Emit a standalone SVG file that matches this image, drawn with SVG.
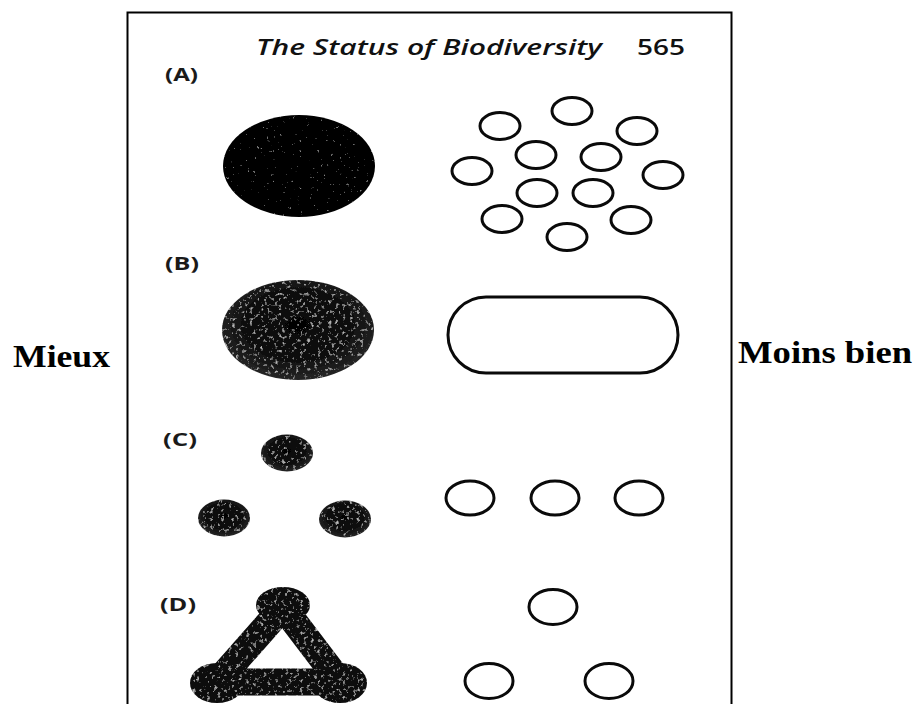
<svg xmlns="http://www.w3.org/2000/svg" width="917" height="704" viewBox="0 0 917 704">
  <style>
    .frame { fill: #ffffff; stroke: #000000; stroke-width: 2; }
    .title { font-family: "Open Sans", "Liberation Sans", sans-serif; font-style: italic; font-weight: 600; font-size: 22px; fill: #111; }
    .page { font-family: "Open Sans", "Liberation Sans", sans-serif; font-weight: 600; font-size: 22px; fill: #111; }
    .lab { font-family: "Open Sans", "Liberation Sans", sans-serif; font-weight: bold; font-size: 17px; fill: #1a1a1a; }
    .side { font-family: "Liberation Serif", "DejaVu Serif", serif; font-weight: bold; font-size: 32px; fill: #000; }
    .open { fill: none; stroke: #0a0a0a; stroke-width: 3; }
    .solid { fill: #060606; }
    .mottled { fill: url(#mott); }
  </style>
  <defs>
    <radialGradient id="mott" cx="50%" cy="45%" r="55%">
      <stop offset="0" stop-color="#050505"/>
      <stop offset="0.6" stop-color="#0c0c0c"/>
      <stop offset="1" stop-color="#262626"/>
    </radialGradient>
    <filter id="grainLight" x="0" y="0" width="100%" height="100%">
      <feTurbulence type="fractalNoise" baseFrequency="0.3" numOctaves="2" seed="4" result="n"/>
      <feColorMatrix in="n" type="matrix" values="0 0 0 0 1  0 0 0 0 1  0 0 0 0 1  4 0 0 0 -2.9" result="spots"/>
      <feComposite in="spots" in2="SourceGraphic" operator="in" result="s2"/>
      <feComponentTransfer in="s2" result="s3"><feFuncA type="linear" slope="0.5"/></feComponentTransfer>
      <feMerge><feMergeNode in="SourceGraphic"/><feMergeNode in="s3"/></feMerge>
    </filter>
    <filter id="grain" x="0" y="0" width="100%" height="100%">
      <feTurbulence type="fractalNoise" baseFrequency="0.28" numOctaves="3" seed="9" result="n"/>
      <feColorMatrix in="n" type="matrix" values="0 0 0 0 1  0 0 0 0 1  0 0 0 0 1  3.5 0 0 0 -2.1" result="spots"/>
      <feComposite in="spots" in2="SourceGraphic" operator="in" result="s2"/>
      <feComponentTransfer in="s2" result="s3"><feFuncA type="linear" slope="0.55"/></feComponentTransfer>
      <feMerge><feMergeNode in="SourceGraphic"/><feMergeNode in="s3"/></feMerge>
    </filter>
  </defs>

  <rect width="917" height="704" fill="#ffffff"/>

  <g id="panel">
    <rect class="frame" x="127.5" y="12.5" width="604" height="720"/>
    <text class="title" x="256" y="55" textLength="346" lengthAdjust="spacingAndGlyphs">The Status of Biodiversity</text>
    <text class="page" x="637" y="55" textLength="48" lengthAdjust="spacingAndGlyphs">565</text>
  </g>

  <g id="side-labels">
    <text class="side" x="13" y="367" textLength="97" lengthAdjust="spacingAndGlyphs">Mieux</text>
    <text class="side" x="738" y="363" textLength="174" lengthAdjust="spacingAndGlyphs">Moins bien</text>
  </g>

  <g id="row-A">
    <text class="lab" x="165" y="81" textLength="33" lengthAdjust="spacingAndGlyphs">(A)</text>
    <ellipse class="solid" cx="299" cy="166" rx="76" ry="51" filter="url(#grainLight)"/>
    <g id="A-open">
      <ellipse class="open" cx="500" cy="126" rx="20" ry="13.5"/>
      <ellipse class="open" cx="572" cy="111" rx="20" ry="13.5"/>
      <ellipse class="open" cx="637" cy="131" rx="20" ry="13.5"/>
      <ellipse class="open" cx="536" cy="155" rx="20" ry="13.5"/>
      <ellipse class="open" cx="601" cy="157" rx="20" ry="13.5"/>
      <ellipse class="open" cx="472" cy="171" rx="20" ry="13.5"/>
      <ellipse class="open" cx="663" cy="175" rx="20" ry="13.5"/>
      <ellipse class="open" cx="537" cy="193" rx="20" ry="13.5"/>
      <ellipse class="open" cx="593" cy="193" rx="20" ry="13.5"/>
      <ellipse class="open" cx="502" cy="219" rx="20" ry="13.5"/>
      <ellipse class="open" cx="631" cy="220" rx="20" ry="13.5"/>
      <ellipse class="open" cx="567" cy="237" rx="20" ry="13.5"/>
    </g>
  </g>

  <g id="row-B">
    <text class="lab" x="165" y="270" textLength="34" lengthAdjust="spacingAndGlyphs">(B)</text>
    <ellipse class="mottled" cx="298" cy="330" rx="76" ry="50" filter="url(#grain)"/>
    <rect class="open" x="448" y="297" width="230" height="76" rx="38" ry="38"/>
  </g>

  <g id="row-C">
    <text class="lab" x="163" y="446" textLength="34" lengthAdjust="spacingAndGlyphs">(C)</text>
    <ellipse class="mottled" cx="287" cy="453" rx="26" ry="18.5" filter="url(#grain)"/>
    <ellipse class="mottled" cx="224" cy="518" rx="26" ry="18.5" filter="url(#grain)"/>
    <ellipse class="mottled" cx="345" cy="519" rx="26" ry="18.5" filter="url(#grain)"/>
    <ellipse class="open" cx="470" cy="498" rx="24" ry="17"/>
    <ellipse class="open" cx="555" cy="498" rx="24" ry="17"/>
    <ellipse class="open" cx="639" cy="498" rx="24" ry="17"/>
  </g>

  <g id="row-D">
    <text class="lab" x="160" y="611" textLength="36" lengthAdjust="spacingAndGlyphs">(D)</text>
    <g filter="url(#grain)">
      <polygon points="283,607 217,682 340,682" fill="none" stroke="#0a0a0a" stroke-width="27" stroke-linejoin="round"/>
      <ellipse cx="283" cy="605" rx="27" ry="18" fill="#0a0a0a"/>
      <ellipse cx="217" cy="683" rx="27" ry="20" fill="#0a0a0a"/>
      <ellipse cx="340" cy="683" rx="27" ry="20" fill="#0a0a0a"/>
    </g>
    <ellipse class="open" cx="553" cy="607" rx="24" ry="17.5"/>
    <ellipse class="open" cx="489" cy="681" rx="24" ry="17.5"/>
    <ellipse class="open" cx="609" cy="681" rx="24" ry="17.5"/>
  </g>
</svg>
